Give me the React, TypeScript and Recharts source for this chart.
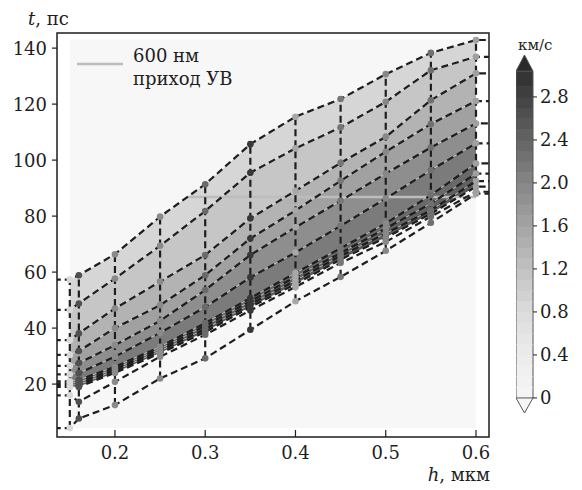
import React from 'react';
import { ComposedChart, Line, Area, XAxis, YAxis, ReferenceArea, BarChart, Bar } from 'recharts';

// ---------- data ----------
const hValues = [0.15, 0.16, 0.2, 0.25, 0.3, 0.35, 0.4, 0.45, 0.5, 0.55, 0.6];

const tCurve1 = [57.3, 58.9, 66.4, 79.8, 91.4, 105.7, 115.5, 121.8, 130.7, 138.3, 142.9];
const tCurve2 = [46.5, 48.8, 57.7, 69.4, 81.8, 95.5, 104.2, 111.7, 120.8, 132.1, 136.9];
const tCurve3 = [35.7, 38.1, 47.0, 56.6, 66.1, 79.2, 89.0, 99.0, 108.3, 121.4, 131.0];
const tCurve4 = [30.4, 31.8, 40.0, 48.2, 58.9, 72.0, 82.0, 92.6, 103.0, 112.9, 121.1];
const tCurve5 = [26.5, 27.5, 33.9, 42.6, 53.6, 66.1, 76.0, 85.5, 95.2, 104.5, 113.1];
const tCurve6 = [23.5, 23.9, 29.8, 38.3, 47.5, 58.1, 67.0, 76.5, 86.3, 96.4, 106.0];
const tBundle1 = [21.0, 21.5, 26.2, 33.3, 41.8, 50.7, 59.7, 68.5, 77.4, 87.5, 98.8];
const tBundle2 = [20.3, 20.6, 25.5, 32.5, 40.8, 49.6, 58.3, 66.8, 75.6, 84.5, 95.2];
const tBundle3 = [19.6, 19.8, 24.8, 31.8, 39.7, 48.5, 57.0, 65.8, 73.8, 82.1, 92.5];
const tBundle4 = [19.0, 19.0, 24.0, 31.0, 38.6, 47.5, 55.7, 64.5, 72.3, 80.8, 90.5];
const tLow = [16.0, 13.7, 20.8, 29.8, 37.6, 46.3, 54.7, 63.3, 70.8, 79.8, 88.7];
const tBottom = [4.3, 7.7, 12.5, 22.0, 29.2, 39.4, 49.6, 58.3, 67.6, 77.6, 88.0];

const curves = [tCurve1, tCurve2, tCurve3, tCurve4, tCurve5, tCurve6, tBundle1, tBundle2, tBundle3, tBundle4, tLow, tBottom];

// shock arrival at 600 nm
const shockT = 86.8;
const shockStartH = 0.281;

const xTicks = [0.2, 0.3, 0.4, 0.5, 0.6];
const yTicks = [20, 40, 60, 80, 100, 120, 140];
const cbTicks = [0, 0.4, 0.8, 1.2, 1.6, 2.0, 2.4, 2.8];
const cbLevels = [0, 0.1, 0.2, 0.3, 0.4, 0.5, 0.6, 0.7, 0.8, 0.9, 1.0, 1.1, 1.2, 1.3, 1.4, 1.5, 1.6, 1.7, 1.8, 1.9, 2.0, 2.1, 2.2, 2.3, 2.4, 2.5, 2.6, 2.7, 2.8, 2.9, 3.04];

// ---------- styles ----------
const FONT = '"DejaVu Serif", "Liberation Serif", "Noto Serif", serif';
const INK = '#1e1e1e';
const TXT: React.CSSProperties = { fontFamily: FONT, fontSize: 18, fill: INK };
const markerColors = ['#d8d8d8', '#505050', '#8a8a8a', '#8a8a8a', '#6a6a6a', '#383838', '#a8a8a8', '#777777', '#888888', '#707070', '#a0a0a0'];
const bands: [number, number, string][] = [
  [0, 1, '#d6d6d6'],
  [1, 2, '#c6c6c6'],
  [2, 3, '#b3b3b3'],
  [3, 4, '#a1a1a1'],
  [4, 5, '#8e8e8e'],
  [5, 6, '#7b7b7b'],
  [6, 7, '#696969'],
  [7, 8, '#616161'],
  [8, 9, '#5a5a5a'],
  [9, 10, '#fbfbfb'],
];
const cbAnchors = [[0, 246], [0.4, 236], [0.8, 220], [1.2, 194], [1.6, 164], [2.0, 134], [2.4, 100], [2.8, 66], [3.04, 48]];
const grayAt = (v: number) => {
  let g = cbAnchors[cbAnchors.length - 1][1];
  for (let i = 0; i < cbAnchors.length - 1; i++) {
    const [a, ga] = cbAnchors[i];
    const [b, gb] = cbAnchors[i + 1];
    if (v >= a && v <= b) { g = ga + (gb - ga) * (v - a) / (b - a); break; }
  }
  const n = Math.round(g);
  return `rgb(${n},${n},${n})`;
};

const X_DOMAIN: [number, number] = [0.1358, 0.6144];
const Y_DOMAIN: [number, number] = [1.1, 145.4];

const XTick = (props: any) => {
  const { x, y, payload } = props;
  return (
    <g>
      <line x1={x} x2={x} y1={y - 9} y2={y - 16} stroke={INK} strokeWidth={1.2} />
      <text x={x} y={y} dy="0.71em" textAnchor="middle" style={TXT}>
        {Number(payload.value).toFixed(1)}
      </text>
    </g>
  );
};

const YTick = (props: any) => {
  const { x, y, payload } = props;
  return (
    <text x={x} y={y} dy="0.36em" textAnchor="end" style={TXT}>
      {payload.value}
    </text>
  );
};

const CbTick = (props: any) => {
  const { x, y, payload } = props;
  const v = Number(payload.value);
  return (
    <text x={x} y={y} dy="0.36em" textAnchor="start" style={TXT}>
      {v === 0 ? '0' : v.toFixed(1)}
    </text>
  );
};

const renderDot = (props: any) => {
  const { cx, cy, payload, index } = props;
  if (payload.stub) return <g key={`s-${index}`} />;
  return <circle key={`d-${index}`} cx={cx} cy={cy} r={3.3} fill={markerColors[payload.col]} stroke="none" />;
};

const CbBand = (props: any) => {
  const { x, y, width, height, fill } = props;
  const top = Math.min(y, y + height);
  const bot = Math.max(y, y + height);
  return (
    <g>
      <rect x={x} y={top} width={width} height={bot - top + 0.5} fill={fill} />
      <line x1={x} x2={x} y1={top} y2={bot} stroke="#555" strokeWidth={1} />
      <line x1={x + width} x2={x + width} y1={top} y2={bot} stroke="#555" strokeWidth={1} />
    </g>
  );
};
const CbTop = (props: any) => {
  const { x, y, width, height, fill } = props;
  const top = Math.min(y, y + height);
  const bot = Math.max(y, y + height);
  return <polygon points={`${x},${bot} ${x + width},${bot} ${x + width / 2},${top}`} fill={fill} stroke="#555" strokeWidth={1} />;
};
const CbBottom = (props: any) => {
  const { x, y, width, height, fill } = props;
  const top = Math.min(y, y + height);
  const bot = Math.max(y, y + height);
  return <polygon points={`${x},${top} ${x + width},${top} ${x + width / 2},${bot}`} fill={fill} stroke="#555" strokeWidth={1} />;
};

export default function App() {
  const rows = hValues.map((h, i) => {
    const r: any = { h };
    curves.forEach((c, k) => { r[`c${k}`] = c[i]; });
    return r;
  });

  const verticals = hValues.map((h, i) => {
    const vals = curves.map((c) => c[i]);
    return [{ h, v: Math.min(...vals) }, { h, v: Math.max(...vals) }];
  });

  const curveData = curves.map((c) => [
    { h: 0.12, v: c[0], stub: true },
    ...hValues.map((h, i) => ({ h, v: c[i], col: i })),
    { h: 0.63, v: c[c.length - 1], stub: true },
  ]);

  const cbRow: any = { name: 'cb', under: -0.14, over: 0.15 };
  for (let i = 0; i < cbLevels.length - 1; i++) cbRow[`s${i}`] = +(cbLevels[i + 1] - cbLevels[i]).toFixed(3);

  return (
    <div style={{ position: 'absolute', left: 0, top: 0, width: 582, height: 490, background: '#fff', fontFamily: FONT }}>
      <ComposedChart width={582} height={490} data={rows} margin={{ top: 33, right: 93, bottom: 23, left: 7 }}>
        <XAxis
          dataKey="h"
          type="number"
          domain={X_DOMAIN}
          allowDataOverflow
          ticks={xTicks}
          tick={<XTick />}
          tickSize={0}
          tickMargin={9}
          tickLine={false}
          axisLine={false}
          height={30}
          interval={0}
        />
        <YAxis
          type="number"
          domain={Y_DOMAIN}
          allowDataOverflow
          ticks={yTicks}
          width={50}
          tickSize={5}
          tickMargin={5}
          tickLine={{ stroke: INK, strokeWidth: 1.2 }}
          axisLine={false}
          tick={<YTick />}
          interval={0}
        />
        <ReferenceArea x1={0.15} x2={0.6} y1={4.3} y2={143.1} fill="#f7f7f7" fillOpacity={1} stroke="none" />
        {bands.map(([a, b, col], k) => (
          <Area
            key={`band-${k}`}
            type="linear"
            dataKey={(r: any) => [r[`c${b}`], r[`c${a}`]]}
            fill={col}
            fillOpacity={1}
            stroke="#ffffff"
            strokeOpacity={0.35}
            strokeWidth={0.8}
            isAnimationActive={false}
            dot={false}
            activeDot={false}
          />
        ))}
        <Line
          data={[{ h: shockStartH, v: shockT }, { h: 0.6, v: shockT }]}
          dataKey="v"
          stroke="#bdbdbd"
          strokeWidth={2.6}
          dot={false}
          activeDot={false}
          isAnimationActive={false}
        />
        {verticals.map((d, k) => (
          <Line
            key={`vert-${k}`}
            data={d}
            dataKey="v"
            stroke={INK}
            strokeWidth={2.2}
            strokeDasharray="7 4"
            dot={false}
            activeDot={false}
            isAnimationActive={false}
          />
        ))}
        {curveData.map((d, k) => (
          <Line
            key={`curve-${k}`}
            data={d}
            dataKey="v"
            type="linear"
            stroke={INK}
            strokeWidth={2.2}
            strokeDasharray="7 4"
            dot={renderDot}
            activeDot={false}
            isAnimationActive={false}
          />
        ))}
        <ReferenceArea x1={X_DOMAIN[0]} x2={X_DOMAIN[1]} y1={Y_DOMAIN[0]} y2={Y_DOMAIN[1]} fill="none" stroke={INK} strokeWidth={1.5} />
      </ComposedChart>

      <div style={{ position: 'absolute', left: 516, top: 55 }}>
        <BarChart width={57} height={358} data={[cbRow]} margin={{ top: 0, right: 0, bottom: 0, left: 0 }} barCategoryGap={0} stackOffset="sign">
          <XAxis dataKey="name" hide />
          <YAxis
            orientation="right"
            type="number"
            domain={[-0.14, 3.19]}
            allowDataOverflow
            ticks={cbTicks}
            width={40}
            tickSize={4}
            tickMargin={3}
            axisLine={false}
            tickLine={{ stroke: INK, strokeWidth: 1 }}
            tick={<CbTick />}
            interval={0}
          />
          {cbLevels.slice(0, -1).map((lv, i) => (
            <Bar
              key={`cb-${i}`}
              dataKey={`s${i}`}
              stackId="cb"
              fill={grayAt((lv + cbLevels[i + 1]) / 2)}
              shape={<CbBand />}
              isAnimationActive={false}
            />
          ))}
          <Bar dataKey="over" stackId="cb" fill="#2a2a2a" shape={<CbTop />} isAnimationActive={false} />
          <Bar dataKey="under" stackId="cb" fill="#f7f7f7" shape={<CbBottom />} isAnimationActive={false} />
        </BarChart>
      </div>

      <svg width={582} height={490} style={{ position: 'absolute', left: 0, top: 0, pointerEvents: 'none' }}>
        <text x={28} y={25} style={TXT}>
          <tspan style={{ fontStyle: 'italic' }}>t</tspan>
          <tspan>, пс</tspan>
        </text>
        <text x={490} y={481} textAnchor="end" style={{ ...TXT, fontSize: 18 }}>
          <tspan style={{ fontStyle: 'italic' }}>h</tspan>
          <tspan>, мкм</tspan>
        </text>
        <text x={518} y={50} style={{ ...TXT, fontSize: 15 }}>км/с</text>
        <line x1={77} x2={123} y1={64} y2={64} stroke="#bdbdbd" strokeWidth={2.6} />
        <text x={133} y={62} style={{ ...TXT, fontSize: 18 }}>600 нм</text>
        <text x={133} y={85} style={{ ...TXT, fontSize: 18 }}>приход УВ</text>
      </svg>
    </div>
  );
}
